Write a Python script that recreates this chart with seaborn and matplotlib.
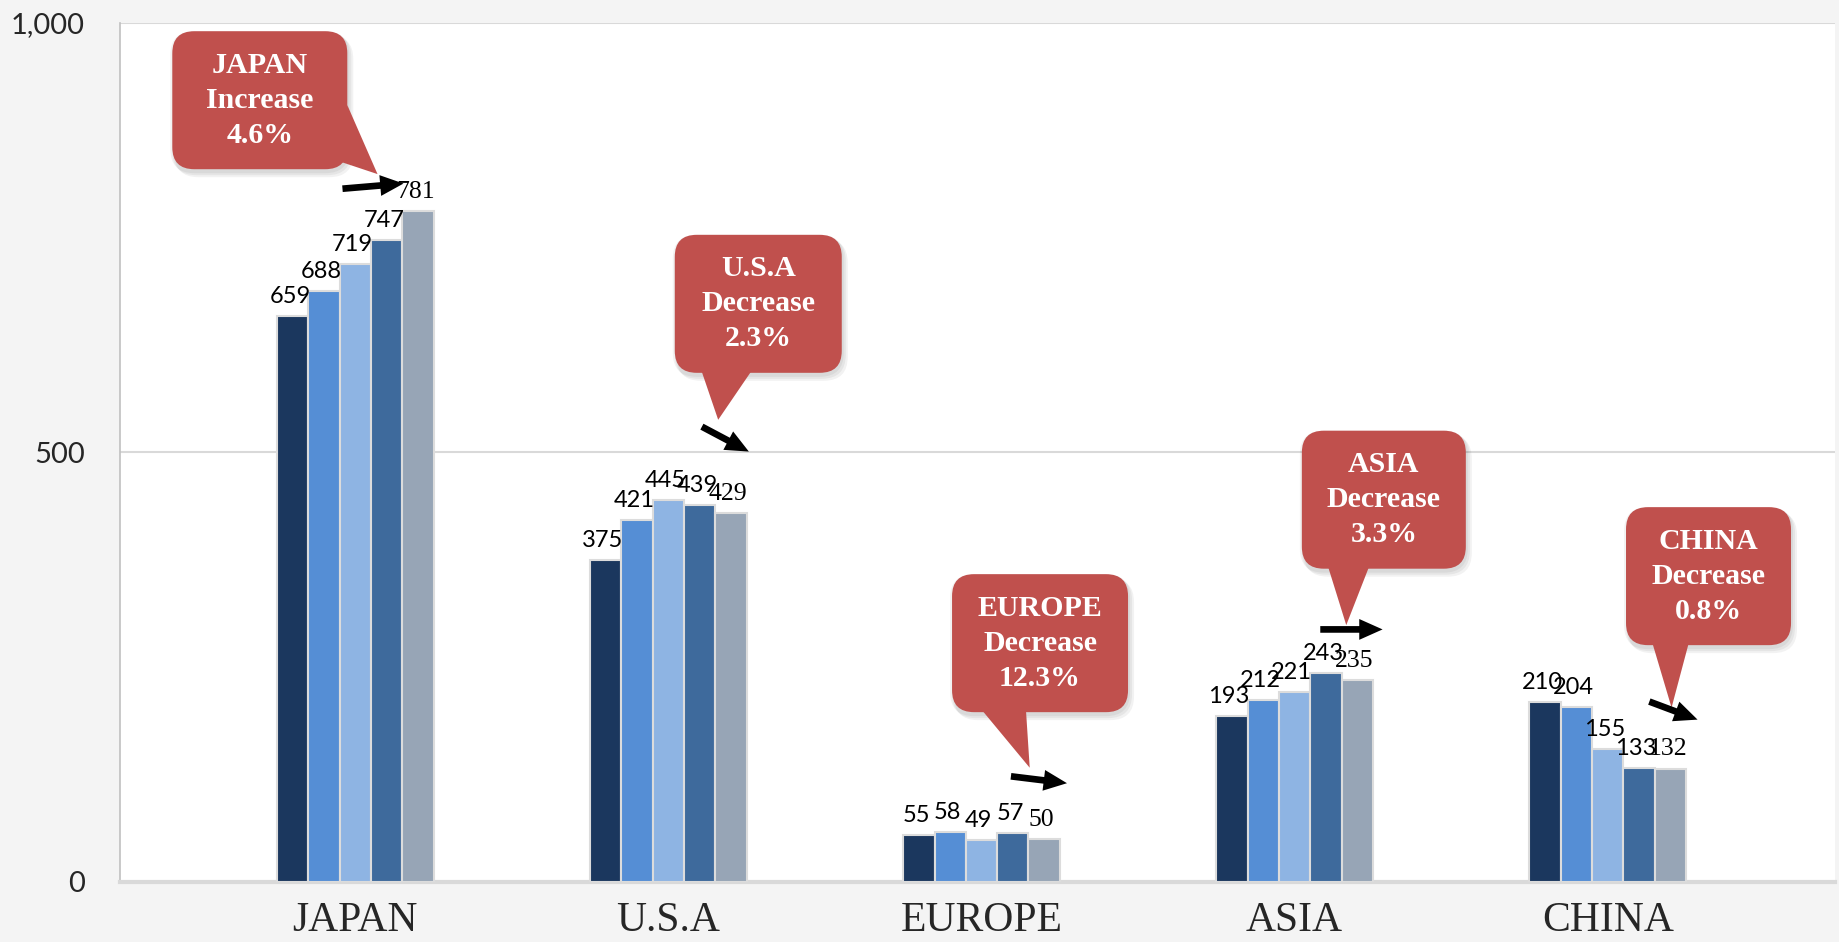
import numpy as np
import pandas as pd
import matplotlib.pyplot as plt
import matplotlib.transforms as mtransforms
from matplotlib.patches import FancyBboxPatch, Polygon, FancyArrowPatch
import seaborn as sns

# chart data
regions = ["JAPAN", "U.S.A", "EUROPE", "ASIA", "CHINA"]
series = ["Series 1", "Series 2", "Series 3", "Series 4", "Series 5"]
s1 = [659, 375, 55, 193, 210]
s2 = [688, 421, 58, 212, 204]
s3 = [719, 445, 49, 221, 155]
s4 = [747, 439, 57, 243, 133]
s5 = [781, 429, 50, 235, 132]
change_dir = ["Increase", "Decrease", "Decrease", "Decrease", "Decrease"]
change_pct = ["4.6%", "2.3%", "12.3%", "3.3%", "0.8%"]
yticks = [0, 500, 1000]
ytick_labels = ["0", "500", "1,000"]

colors = ["#1b375e", "#558ed5", "#8eb4e3", "#3e6a9c", "#97a5b6"]
red = "#c0504d"

# callout layout, offsets relative to each group centre
box_xy = [(-0.305, 910), (0.287, 673), (0.187, 278), (0.285, 445), (0.322, 356)]
box_w = [175, 167, 176, 164, 165]
tip_xy = [(0.071, 824), (0.159, 538), (0.154, 133), (0.165, 299), (0.204, 203)]
base_frac = [((1.0, 0.45), (0.96, 0.04)),
             ((0.16, 0.0), (0.46, 0.0)),
             ((0.17, 0.0), (0.42, 0.0)),
             ((0.16, 0.0), (0.41, 0.0)),
             ((0.16, 0.0), (0.38, 0.0))]
arrow_from = [(-0.041, 807), (0.107, 530), (0.094, 123), (0.082, 294), (0.133, 210)]
arrow_to = [(0.154, 813), (0.257, 501), (0.273, 115), (0.281, 294), (0.287, 189)]

df = pd.DataFrame({
    "region": np.repeat(regions, len(series)),
    "series": series * len(regions),
    "value": np.array([s1, s2, s3, s4, s5]).T.ravel(),
})

sns.set_style("white")
plt.rcParams["font.family"] = ["Lato", "DejaVu Sans"]

fig = plt.figure(figsize=(18.39, 9.42), dpi=100, facecolor="#f4f4f4")
ax = fig.add_axes([0.065, 0.0637, 0.933, 0.912])
ax.set_facecolor("white")

sns.barplot(data=df, x="region", y="value", hue="series", palette=colors,
            width=0.5, saturation=1, edgecolor="#dcdcdc", linewidth=1.5,
            legend=False, ax=ax, zorder=3)

ax.set_xlim(-0.753, 4.727)
ax.set_ylim(0, 1000)
ax.set_yticks(yticks)
ax.set_yticklabels(ytick_labels)
ax.set_xlabel("")
ax.set_ylabel("")
ax.tick_params(axis="y", length=0, pad=25, labelsize=21)
ax.tick_params(axis="x", length=0, pad=14)
for lbl in ax.get_xticklabels():
    lbl.set_fontfamily("Liberation Serif")
    lbl.set_fontsize(30)
for y in yticks[1:]:
    ax.axhline(y, color="#d9d9d9", lw=1.5, zorder=1)
for side in ["top", "right"]:
    ax.spines[side].set_visible(False)
ax.spines["left"].set_color("#c0c0c0")
ax.spines["left"].set_linewidth(1.2)
ax.spines["bottom"].set_color("#d9d9d9")
ax.spines["bottom"].set_linewidth(3)

# value labels, last series in serif like the original
last = len(ax.containers) - 1
for k, cont in enumerate(ax.containers):
    fam = "Liberation Serif" if k == last else "Lato"
    size = 18.5 if k == last else 17
    for bar in cont:
        h = bar.get_height()
        ax.annotate(f"{h:.0f}", (bar.get_x() + bar.get_width() / 2, h),
                    xytext=(-2, 14), textcoords="offset points",
                    ha="center", va="center", fontsize=size, family=fam,
                    color="black", zorder=5)

# callouts drawn in pixel space
fig.canvas.draw()
ident = mtransforms.IdentityTransform()
bh = 138
for i in range(len(regions)):
    bw = box_w[i]
    cx, cy = ax.transData.transform((i + box_xy[i][0], box_xy[i][1]))
    tx, ty = ax.transData.transform((i + tip_xy[i][0], tip_xy[i][1]))
    x0, y0 = cx - bw / 2, cy - bh / 2
    # soft shadow
    for k in range(3):
        sh = FancyBboxPatch((x0 - 2 + k * 2, y0 - 4 - k * 2), bw + 4, bh + 4,
                            boxstyle="round,pad=0,rounding_size=24",
                            fc="black", ec="none", alpha=0.05,
                            transform=ident, zorder=6)
        ax.add_artist(sh)
    box = FancyBboxPatch((x0, y0), bw, bh, boxstyle="round,pad=0,rounding_size=22",
                         fc=red, ec="none", transform=ident, zorder=7)
    ax.add_artist(box)
    fa, fb = base_frac[i]
    pts = [(x0 + fa[0] * bw, y0 + fa[1] * bh + 2),
           (tx, ty),
           (x0 + fb[0] * bw, y0 + fb[1] * bh + 2)]
    ax.add_artist(Polygon(pts, closed=True, fc=red, ec="none",
                          transform=ident, zorder=7))
    ax.text(i + box_xy[i][0], box_xy[i][1],
            f"{regions[i]}\n{change_dir[i]}\n{change_pct[i]}",
            ha="center", va="center", color="white", fontsize=21.5,
            fontweight="bold", family="Liberation Serif", linespacing=1.38,
            zorder=8)
    arr = FancyArrowPatch((i + arrow_from[i][0], arrow_from[i][1]),
                          (i + arrow_to[i][0], arrow_to[i][1]),
                          arrowstyle="simple,head_length=0.84,head_width=0.75,tail_width=0.24",
                          mutation_scale=20, color="black", lw=0, zorder=8,
                          shrinkA=0, shrinkB=0)
    ax.add_patch(arr)

fig.savefig("out.png", dpi=100, facecolor=fig.get_facecolor())
